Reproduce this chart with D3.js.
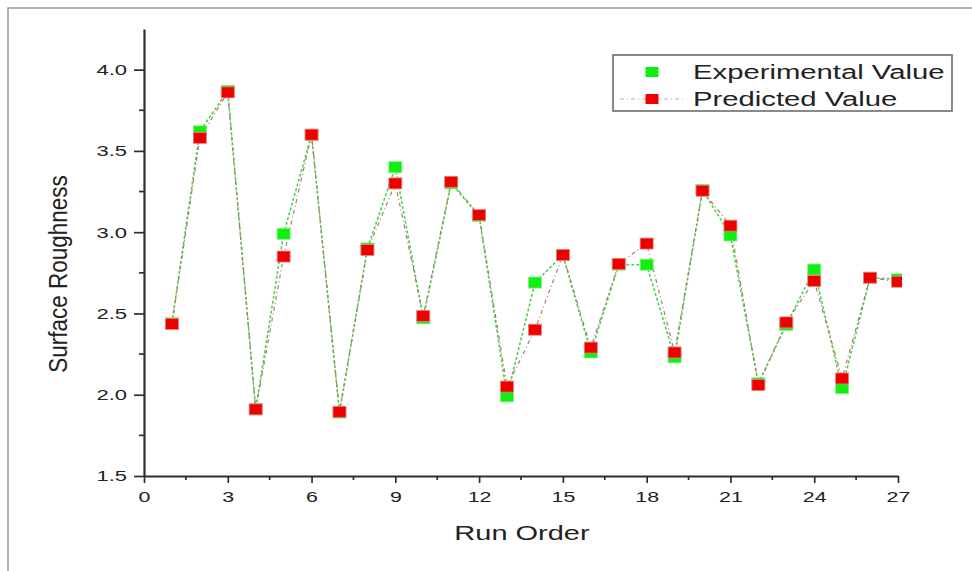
<!DOCTYPE html>
<html><head><meta charset="utf-8">
<script src="https://cdn.jsdelivr.net/npm/d3@7"></script>
<style>
html,body{margin:0;padding:0;background:#fff;}
text{font-family:"Liberation Sans",Arial,sans-serif;fill:#222;}
</style></head>
<body>
<svg id="chart" width="972" height="571"></svg>
<script>
const runs = [1,2,3,4,5,6,7,8,9,10,11,12,13,14,15,16,17,18,19,20,21,22,23,24,25,26,27];
const experimental = [2.44,3.62,3.87,1.91,2.99,3.60,1.89,2.90,3.40,2.47,3.30,3.10,1.99,2.69,2.86,2.26,2.80,2.80,2.23,3.26,2.98,2.07,2.43,2.77,2.04,2.72,2.71];
const predicted = [2.435,3.58,3.86,1.91,2.85,3.60,1.895,2.89,3.30,2.485,3.31,3.105,2.05,2.40,2.86,2.29,2.805,2.93,2.26,3.255,3.04,2.06,2.445,2.70,2.10,2.72,2.695];
const xTicks = [0,3,6,9,12,15,18,21,24,27];
const xMinor = [1.5,4.5,7.5,10.5,13.5,16.5,19.5,22.5,25.5];
const yTicks = [1.5,2.0,2.5,3.0,3.5,4.0];
const yMinor = [1.75,2.25,2.75,3.25,3.75];
const seriesNames = ["Experimental Value","Predicted Value"];
const xTitle = "Run Order", yTitle = "Surface Roughness";

const svg = d3.select("#chart");
const SX = 1.42; // horizontal stretch of the reference text

function stretch(sel, k){
  sel.each(function(){
    const w = this.getComputedTextLength();
    d3.select(this).attr("textLength", w*k).attr("lengthAdjust","spacingAndGlyphs");
  });
}

// outer frame
svg.append("path").attr("d","M8,571 L8,8 L972,8").attr("fill","none").attr("stroke","#9a9a9a").attr("stroke-width",1.5);

const x = d3.scaleLinear().domain([0,27]).range([144,898]);
const y = d3.scaleLinear().domain([1.5,4.25]).range([476,29]);

svg.append("defs").append("clipPath").attr("id","plotclip")
  .append("rect").attr("x",130).attr("y",20).attr("width",902-130).attr("height",470);

const axisColor = "#2e2e2e";
// x axis
const gx = svg.append("g").attr("transform","translate(0,476)");
gx.call(d3.axisBottom(x).tickValues(xTicks).tickFormat(d3.format("d")).tickSize(7).tickPadding(8).tickSizeOuter(0));
gx.select(".domain").attr("stroke",axisColor).attr("stroke-width",2.2);
gx.selectAll(".tick line").attr("stroke",axisColor).attr("stroke-width",1.7);
gx.selectAll(".tick text").attr("font-size",15.5).attr("fill","#222").attr("font-family","Liberation Sans, Arial, sans-serif");
gx.selectAll(".minor").data(xMinor).enter().append("line")
  .attr("x1",d=>x(d)).attr("x2",d=>x(d)).attr("y1",0).attr("y2",4)
  .attr("stroke",axisColor).attr("stroke-width",1.7);

// y axis
const gy = svg.append("g").attr("transform","translate(144,0)");
gy.call(d3.axisLeft(y).tickValues(yTicks).tickFormat(d3.format(".1f")).tickSize(10).tickPadding(7).tickSizeOuter(0));
gy.select(".domain").attr("stroke",axisColor).attr("stroke-width",2.2);
gy.selectAll(".tick line").attr("stroke",axisColor).attr("stroke-width",1.7);
gy.selectAll(".tick text").attr("font-size",15.5).attr("fill","#222").attr("font-family","Liberation Sans, Arial, sans-serif");
gy.selectAll(".minor").data(yMinor).enter().append("line")
  .attr("x1",-5).attr("x2",0).attr("y1",d=>y(d)).attr("y2",d=>y(d))
  .attr("stroke",axisColor).attr("stroke-width",1.7);

stretch(gx.selectAll(".tick text"), 1.38);
stretch(gy.selectAll(".tick text"), SX);

// axis titles
const xt = svg.append("text").attr("x",522).attr("y",540).attr("text-anchor","middle").attr("font-size",21).text(xTitle);
stretch(xt, 1.38);
svg.append("text").attr("transform","translate(67,274) rotate(-90) scale(1,1.15)")
  .attr("text-anchor","middle").attr("font-size",22.5).text(yTitle);

// data
const plot = svg.append("g").attr("clip-path","url(#plotclip)");
const expData = runs.map((r,i)=>({r, v:experimental[i]}));
const preData = runs.map((r,i)=>({r, v:predicted[i]}));
const line = d3.line().x(d=>x(d.r)).y(d=>y(d.v));

plot.append("path").datum(expData).attr("d",line).attr("fill","none")
  .attr("stroke","#4fd24f").attr("stroke-width",1.6).attr("stroke-dasharray","3,2");
plot.append("path").datum(preData).attr("d",line).attr("fill","none")
  .attr("stroke","#b07a6a").attr("stroke-width",1.2).attr("stroke-dasharray","4,3,1,3");

const MW = 13, MH = 11;
plot.selectAll(".exp").data(expData).enter().append("rect")
  .attr("x",d=>x(d.r)-MW/2).attr("y",d=>y(d.v)-MH/2).attr("width",MW).attr("height",MH)
  .attr("fill","#11ee11").attr("stroke","#7bf57b").attr("stroke-width",0.8);
plot.selectAll(".pre").data(preData).enter().append("rect")
  .attr("x",d=>x(d.r)-MW/2).attr("y",d=>y(d.v)-MH/2).attr("width",MW).attr("height",MH)
  .attr("fill","#ee0000").attr("stroke","#f08080").attr("stroke-width",0.8);

// legend
const lg = svg.append("g");
lg.append("rect").attr("x",613).attr("y",55).attr("width",339).attr("height",56)
  .attr("fill","#fff").attr("stroke","#6d6d6d").attr("stroke-width",1.6);
lg.append("rect").attr("x",652-6.5).attr("y",72-5).attr("width",13).attr("height",10).attr("fill","#11ee11");
lg.append("line").attr("x1",620).attr("x2",684).attr("y1",99).attr("y2",99)
  .attr("stroke","#e0a0a0").attr("stroke-width",1.1).attr("stroke-dasharray","4,3,1,3");
lg.append("rect").attr("x",652-6.5).attr("y",99-5).attr("width",13).attr("height",10).attr("fill","#ee0000");
const l1 = lg.append("text").attr("x",693).attr("y",79).attr("font-size",19.5).text(seriesNames[0]);
const l2 = lg.append("text").attr("x",693).attr("y",106).attr("font-size",19.5).text(seriesNames[1]);
stretch(l1, 1.5); stretch(l2, 1.5);
</script>
</body></html>
